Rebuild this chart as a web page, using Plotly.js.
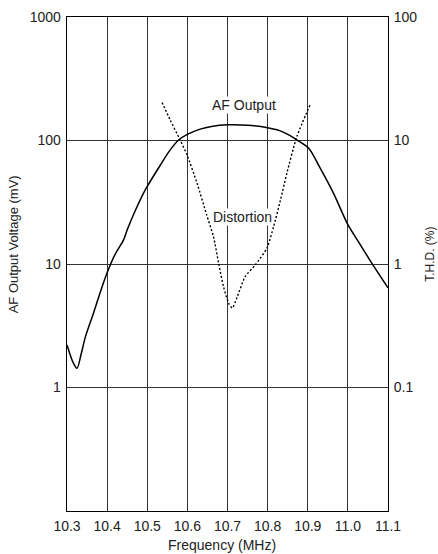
<!DOCTYPE html>
<html>
<head>
<meta charset="utf-8">
<script src="https://cdn.plot.ly/plotly-3.0.1.min.js"></script>
<style>html,body{margin:0;padding:0;background:#fff;}#chart{width:438px;height:554px;}</style>
</head>
<body>
<div id="chart"></div>
<script>
// AF output voltage (mV) vs frequency (MHz)
const afFreq = [10.30, 10.315, 10.325, 10.335, 10.346, 10.366, 10.385, 10.40, 10.42, 10.441, 10.45, 10.47, 10.495, 10.533, 10.555, 10.578, 10.60, 10.632, 10.66, 10.70, 10.75, 10.80, 10.823, 10.836, 10.855, 10.873, 10.902, 10.931, 10.964, 11.00, 11.03, 11.06, 11.10];
const afMv   = [2.21, 1.6, 1.43, 1.85, 2.58, 4.0, 6.2, 8.5, 12.0, 15.7, 18.9, 27, 39.8, 63.5, 82, 101, 112, 123.7, 130, 134, 133, 127, 122, 118, 110, 101, 86.8, 59.7, 37.5, 20.8, 14.5, 10.1, 6.4];
// Distortion T.H.D. (%) vs frequency (MHz)
const thdFreq = [10.537, 10.557, 10.582, 10.599, 10.624, 10.648, 10.665, 10.678, 10.69, 10.703, 10.712, 10.724, 10.744, 10.769, 10.798, 10.815, 10.832, 10.848, 10.873, 10.906];
const thdPct  = [20.3, 14.7, 10.1, 7.66, 4.52, 2.5, 1.67, 1.01, 0.656, 0.48, 0.44, 0.54, 0.79, 0.98, 1.34, 2.01, 3.3, 5.45, 10.8, 19.5];
// Tick labels
const xTicks = [10.3, 10.4, 10.5, 10.6, 10.7, 10.8, 10.9, 11.0, 11.1];
const leftTicks = [1, 10, 100, 1000];
const rightTicks = [0.1, 1, 10, 100];

const FONT = 'Liberation Sans, Arial, sans-serif';
const TXT = '#222';

const traces = [
  {x: afFreq, y: afMv, type: 'scatter', mode: 'lines', yaxis: 'y',
   line: {color: '#000', width: 1.5, shape: 'spline', smoothing: 0.8}, hoverinfo: 'skip'},
  {x: thdFreq, y: thdPct, type: 'scatter', mode: 'lines', yaxis: 'y2',
   line: {color: '#000', width: 1.4, dash: '2px,2px', shape: 'spline', smoothing: 0.6}, hoverinfo: 'skip'}
];

const layout = {
  width: 438, height: 554,
  margin: {l: 66.7, r: 50.3, t: 17.3, b: 43},
  paper_bgcolor: '#fff', plot_bgcolor: '#fff',
  showlegend: false,
  font: {family: FONT, size: 14, color: TXT},
  xaxis: {
    range: [10.3, 11.1], tickvals: xTicks, ticktext: xTicks.map(v => v.toFixed(1)),
    showgrid: true, gridcolor: '#333', gridwidth: 1,
    showline: true, linecolor: '#000', linewidth: 1.3, mirror: true,
    ticks: 'outside', ticklen: 2, tickcolor: 'rgba(0,0,0,0)',
    zeroline: false, tickfont: {family: FONT, size: 14, color: TXT}
  },
  yaxis: {
    type: 'log', range: [-1, 3], tickvals: leftTicks, ticktext: leftTicks.map(String),
    showgrid: true, gridcolor: '#333', gridwidth: 1,
    showline: true, linecolor: '#000', linewidth: 1.3, mirror: true,
    ticks: 'outside', ticklen: 2, tickcolor: 'rgba(0,0,0,0)',
    zeroline: false, tickfont: {family: FONT, size: 14, color: TXT}
  },
  yaxis2: {
    type: 'log', range: [-2, 2], overlaying: 'y', side: 'right',
    tickvals: rightTicks, ticktext: rightTicks.map(String),
    showgrid: false, showline: false, zeroline: false,
    ticks: 'outside', ticklen: 2, tickcolor: 'rgba(0,0,0,0)',
    tickfont: {family: FONT, size: 14, color: TXT}
  },
  annotations: [
    {text: 'AF Output', xref: 'x', yref: 'y', x: 10.742, y: Math.log10(194), showarrow: false,
     font: {family: FONT, size: 14, color: TXT}, bgcolor: '#fff', borderpad: 0},
    {text: 'Distortion', xref: 'x', yref: 'y', x: 10.7386, y: Math.log10(24.2), showarrow: false,
     font: {family: FONT, size: 14, color: TXT}, bgcolor: '#fff', borderpad: 0},
    {text: 'AF Output Voltage (mV)', xref: 'paper', yref: 'paper', x: -0.168, y: 0.54,
     xanchor: 'center', yanchor: 'middle', textangle: -90, showarrow: false,
     font: {family: FONT, size: 13, color: TXT}},
    {text: 'T.H.D. (%)', xref: 'paper', yref: 'paper', x: 1.130, y: 0.52,
     xanchor: 'center', yanchor: 'middle', textangle: -90, showarrow: false,
     font: {family: FONT, size: 12, color: TXT}},
    {text: 'Frequency (MHz)', xref: 'paper', yref: 'paper', x: 0.483, y: -0.069,
     xanchor: 'center', yanchor: 'middle', showarrow: false,
     font: {family: FONT, size: 14, color: TXT}}
  ]
};

Plotly.newPlot('chart', traces, layout, {staticPlot: true, displayModeBar: false});
</script>
</body>
</html>
